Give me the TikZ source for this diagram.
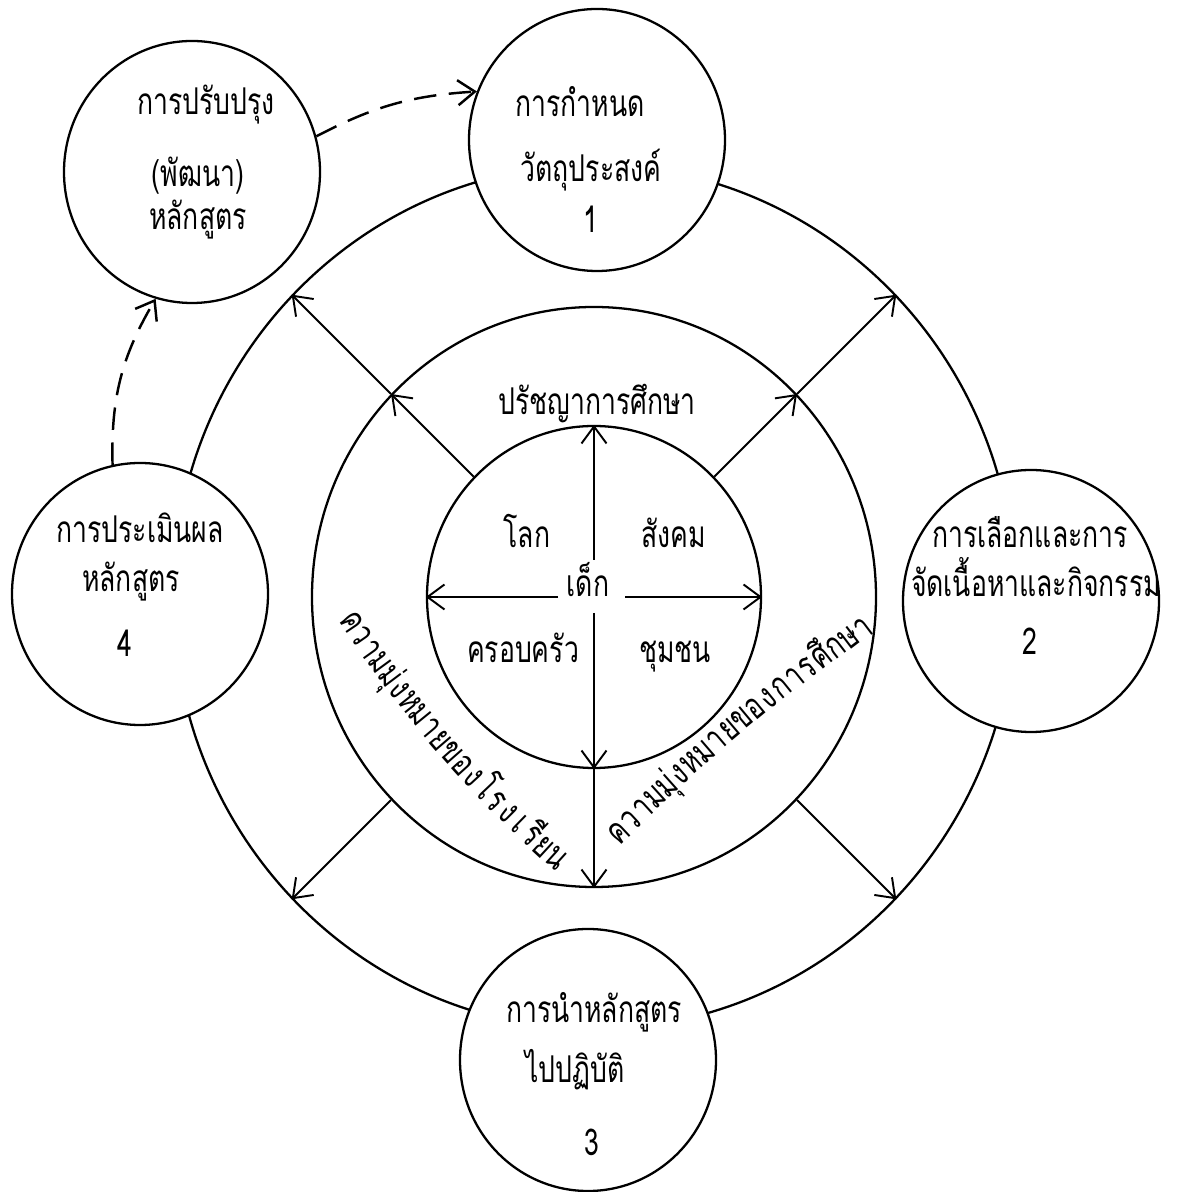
\documentclass[tikz,border=0pt]{standalone}
\usepackage{fontspec}
\newfontfamily\thaifont[Script=Thai,FakeStretch=0.72]{Loma}
\usetikzlibrary{arrows.meta,calc,shapes.geometric}

\tikzset{
  ring/.style  = {ellipse, draw, line width=1.3pt, inner sep=0pt},
  stage/.style = {ellipse, draw, fill=white, line width=1.3pt, inner sep=0pt,
                  minimum width=51.2mm, minimum height=52.4mm},
  txt/.style   = {anchor=base, inner sep=0pt},
  flow/.style  = {->, line width=1.1pt},
  back/.style  = {->, line width=1.4pt, dash pattern=on 4.5mm off 2.5mm},
}

\begin{document}
\begin{tikzpicture}[x=0.2mm, y=0.2mm, >={Straight Barb[length=3.4mm,width=5mm]},
                    font=\thaifont\fontsize{21}{25}\selectfont]
	\useasboundingbox (0,0) rectangle (1178,1192);
	\coordinate (hub) at (594,595);
	% three rings round the child
	\node[ring, minimum width=168.4mm, minimum height=172.8mm] (outer)  at (hub) {};
	\node[ring, minimum width=112.8mm, minimum height=116mm]   (middle) at (hub) {};
	\node[ring, minimum width=66.8mm,  minimum height=68.4mm]  (core)   at (hub) {};
	% five steps
	\node[stage] (objective) at (597,1052) {};
	\node[stage] (content)   at (1031,591) {};
	\node[stage] (practice)  at (588,132)  {};
	\node[stage] (evaluate)  at (140,598)  {};
	\node[stage] (improve)   at (192,1020) {};
	\node[txt] (objective1) at (580,1075) {การกำหนด};
	\node[txt] (objective2) at (591,1010) {วัตถุประสงค์};
	\node[txt] (objective3) at (591,959)  {1};
	\node[txt] (content1)   at (1030,644) {การเลือกและการ};
	\node[txt] (content2)   at (1036,595) {จัดเนื้อหาและกิจกรรม};
	\node[txt] (content3)   at (1030,537) {2};
	\node[txt] (practice1)  at (594,169)  {การนำหลักสูตร};
	\node[txt] (practice2)  at (575,109)  {ไปปฏิบัติ};
	\node[txt] (practice3)  at (592,37)   {3};
	\node[txt] (evaluate1)  at (140,649)  {การประเมินผล};
	\node[txt] (evaluate2)  at (131,600)  {หลักสูตร};
	\node[txt] (evaluate3)  at (125,535)  {4};
	\node[txt] (improve1)   at (206,1077) {การปรับปรุง};
	\node[txt] (improve2)   at (198,1005) {(พัฒนา)};
	\node[txt] (improve3)   at (198,962)  {หลักสูตร};
	% inside the rings
	\node[txt] (philosophy) at (597,777) {ปรัชญาการศึกษา};
	\node[txt] (world)      at (527,644) {โลก};
	\node[txt] (society)    at (674,644) {สังคม};
	\node[txt] (child)      at (588,595) {เด็ก};
	\node[txt] (family)     at (523,529) {ครอบครัว};
	\node[txt] (community)  at (675,529) {ชุมชน};
	% the two aims, one letter at a time, typewriter spacing
	\foreach \ch [count=\i from 0, evaluate=\i as \t using \i/19] in {ค,ว,า,ม,มุ่,ง,ห,ม,า,ย,ข,อ,ง,โ,ร,ง,เ,รี,ย,น}
		\node[txt, rotate={-56+14*\t}] (school\i)
			at ({343+206*\t-30.2*\t*(1-\t)}, {564-238*\t-26.2*\t*(1-\t)}) {\ch};
	\foreach \ch [count=\i from 0, evaluate=\i as \t using \i/19] in {ค,ว,า,ม,มุ่,ง,ห,ม,า,ย,ข,อ,ง,ก,า,ร,ศึ,ก,ษ,า}
		\node[txt, rotate={43-6*\t}] (aim\i)
			at ({626+243*\t-20.5*\t*(1-\t)}, {352+203*\t+24.5*\t*(1-\t)}) {\ch};
	% arrows
	\coordinate (childup)    at (594,632);
	\coordinate (childdown)  at (594,579);
	\coordinate (childleft)  at (558,595);
	\coordinate (childright) at (625,595);
	\path[flow]
		(childup)     edge (core.north)
		(childleft)   edge (core.west)
		(childright)  edge (core.east)
		(childdown)   edge (core.south)
		(core.south)  edge (middle.south)
		(core.45)     edge (middle.45)
		(middle.45)   edge (outer.45)
		(core.135)    edge (middle.135)
		(middle.135)  edge (outer.135)
		(middle.315)  edge (outer.315)
		(middle.225)  edge (outer.225);
	\draw[back] (evaluate.102) to[bend left=16] (improve.254);
	\draw[back] (improve.16)   to[bend left=12] (objective.158);
\end{tikzpicture}
\end{document}
